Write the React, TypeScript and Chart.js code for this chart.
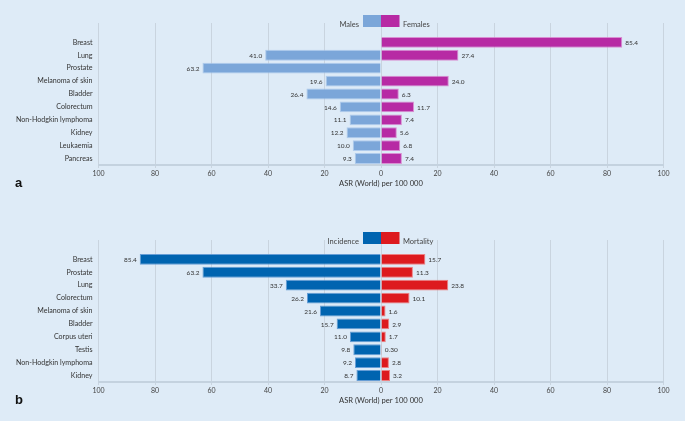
import React, { useEffect, useRef } from 'react';
import { Chart, registerables } from 'chart.js';

Chart.register(...registerables);

const BG = '#deebf7';
const FONT = 'Lato, "Open Sans", sans-serif';

// Panel a
const categoriesA = ['Breast', 'Lung', 'Prostate', 'Melanoma of skin', 'Bladder', 'Colorectum', 'Non-Hodgkin lymphoma', 'Kidney', 'Leukaemia', 'Pancreas'];
const malesA: (number | null)[] = [null, 41.0, 63.2, 19.6, 26.4, 14.6, 11.1, 12.2, 10.0, 9.3];
const femalesA: (number | null)[] = [85.4, 27.4, null, 24.0, 6.3, 11.7, 7.4, 5.6, 6.8, 7.4];

// Panel b
const categoriesB = ['Breast', 'Prostate', 'Lung', 'Colorectum', 'Melanoma of skin', 'Bladder', 'Corpus uteri', 'Testis', 'Non-Hodgkin lymphoma', 'Kidney'];
const incidenceB: (number | null)[] = [85.4, 63.2, 33.7, 26.2, 21.6, 15.7, 11.0, 9.8, 9.2, 8.7];
const mortalityB: (number | null)[] = [15.7, 11.3, 23.8, 10.1, 1.6, 2.9, 1.7, 0.3, 2.8, 3.2];

const axisMin = -100;
const axisMax = 100;
const axisStep = 20;
const axisTitle = 'ASR (World) per 100 000';

type PanelProps = {
  top: number;
  categories: string[];
  left: (number | null)[];
  right: (number | null)[];
  leftLabel: string;
  rightLabel: string;
  leftColor: string;
  rightColor: string;
  leftBorder: string;
  rightBorder: string;
};

const fmt = (v: number) => (v < 1 ? v.toFixed(2) : v.toFixed(1));

function Panel(p: PanelProps) {
  const ref = useRef<HTMLCanvasElement>(null);
  useEffect(() => {
    if (!ref.current) return;
    const valueLabels = {
      id: 'valueLabels',
      afterDatasetsDraw(chart: any) {
        const ctx = chart.ctx;
        ctx.save();
        ctx.font = `6.5px ${FONT}`;
        ctx.fillStyle = '#333';
        ctx.textBaseline = 'middle';
        chart.data.datasets.forEach((_ds: any, di: number) => {
          const meta = chart.getDatasetMeta(di);
          const src = di === 0 ? p.left : p.right;
          meta.data.forEach((el: any, i: number) => {
            if (i === 0) return;
            const v = src[i - 1];
            if (v == null) return;
            if (di === 0) {
              ctx.textAlign = 'right';
              ctx.fillText(fmt(v), el.x - 3, el.y + 0.5);
            } else {
              ctx.textAlign = 'left';
              ctx.fillText(fmt(v), el.x + 3, el.y + 0.5);
            }
          });
        });
        ctx.restore();
      },
    };
    const legendBoxes = {
      id: 'legendBoxes',
      afterDraw(chart: any) {
        const { ctx, chartArea } = chart;
        const zero = chart.scales.x.getPixelForValue(0);
        const t = chartArea.top;
        ctx.save();
        ctx.fillStyle = p.leftColor;
        ctx.fillRect(zero - 18, t - 8, 18, 12);
        ctx.fillStyle = p.rightColor;
        ctx.fillRect(zero, t - 8, 18.5, 12);
        ctx.font = `7.5px ${FONT}`;
        ctx.fillStyle = '#444';
        ctx.textBaseline = 'alphabetic';
        ctx.textAlign = 'right';
        ctx.fillText(p.leftLabel, zero - 22, t + 3.5);
        ctx.textAlign = 'left';
        ctx.fillText(p.rightLabel, zero + 22, t + 3.5);
        ctx.restore();
      },
    };
    const chart = new Chart(ref.current, {
      type: 'bar',
      data: {
        labels: ['', ...p.categories],
        datasets: [
          {
            label: p.leftLabel,
            data: [null, ...p.left.map((v) => (v == null ? null : -v))],
            backgroundColor: p.leftColor,
            borderColor: p.leftBorder,
            borderWidth: 1,
            categoryPercentage: 1,
            barPercentage: 0.84,
          },
          {
            label: p.rightLabel,
            data: [null, ...p.right],
            backgroundColor: p.rightColor,
            borderColor: p.rightBorder,
            borderWidth: 1,
            categoryPercentage: 1,
            barPercentage: 0.84,
          },
        ],
      },
      options: {
        indexAxis: 'y',
        responsive: false,
        animation: false,
        layout: { padding: { top: 23, right: 21.5, left: 0, bottom: 0 } },
        plugins: { legend: { display: false }, tooltip: { enabled: false } },
        scales: {
          x: {
            type: 'linear',
            min: axisMin,
            max: axisMax,
            stacked: true,
            ticks: {
              stepSize: axisStep,
              callback: (v: any) => String(Math.abs(Number(v))),
              font: { family: FONT, size: 7 },
              color: '#444',
              padding: 2,
              maxRotation: 0,
              autoSkip: false,
            },
            grid: { color: '#c9d4df', lineWidth: 1, tickLength: 3, drawTicks: true },
            border: { display: true, color: '#c4d2df', width: 2 },
            title: {
              display: true,
              text: axisTitle,
              font: { family: FONT, size: 7.6 },
              color: '#333',
              padding: { top: 0, bottom: 16.5 },
            },
            afterFit: (s: any) => {
              s.height = 40;
            },
          },
          y: {
            stacked: true,
            grid: { display: false, drawTicks: false, tickLength: 0 },
            border: { display: false },
            ticks: { font: { family: FONT, size: 7.1 }, color: '#333', padding: 6, autoSkip: false },
            afterFit: (s: any) => {
              s.width = 98.5;
            },
          },
        },
      } as any,
      plugins: [valueLabels, legendBoxes],
    });
    return () => chart.destroy();
  }, []);
  return (
    <canvas
      ref={ref}
      width={685}
      height={205}
      style={{ position: 'absolute', left: 0, top: p.top, width: 685, height: 205, display: 'block' }}
    />
  );
}

export default function App() {
  useEffect(() => {
    document.body.style.margin = '0';
    document.body.style.background = BG;
  }, []);
  const letter: React.CSSProperties = {
    position: 'absolute',
    left: 15,
    font: 'bold 13px "Liberation Sans", Arial, sans-serif',
    lineHeight: '13px',
    color: '#111',
  };
  return (
    <div style={{ position: 'absolute', left: 0, top: 0, width: 685, height: 421, background: BG, overflow: 'hidden' }}>
      <Panel
        top={0}
        categories={categoriesA}
        left={malesA}
        right={femalesA}
        leftLabel="Males"
        rightLabel="Females"
        leftColor="#7ba6d9"
        rightColor="#b72aa4"
        leftBorder="rgba(170,200,235,0.9)"
        rightBorder="rgba(215,120,200,0.8)"
      />
      <Panel
        top={217}
        categories={categoriesB}
        left={incidenceB}
        right={mortalityB}
        leftLabel="Incidence"
        rightLabel="Mortality"
        leftColor="#0064b0"
        rightColor="#dd1a1e"
        leftBorder="rgba(90,150,210,0.9)"
        rightBorder="rgba(240,110,110,0.85)"
      />
      <div style={{ ...letter, top: 176 }}>a</div>
      <div style={{ ...letter, top: 393 }}>b</div>
    </div>
  );
}
